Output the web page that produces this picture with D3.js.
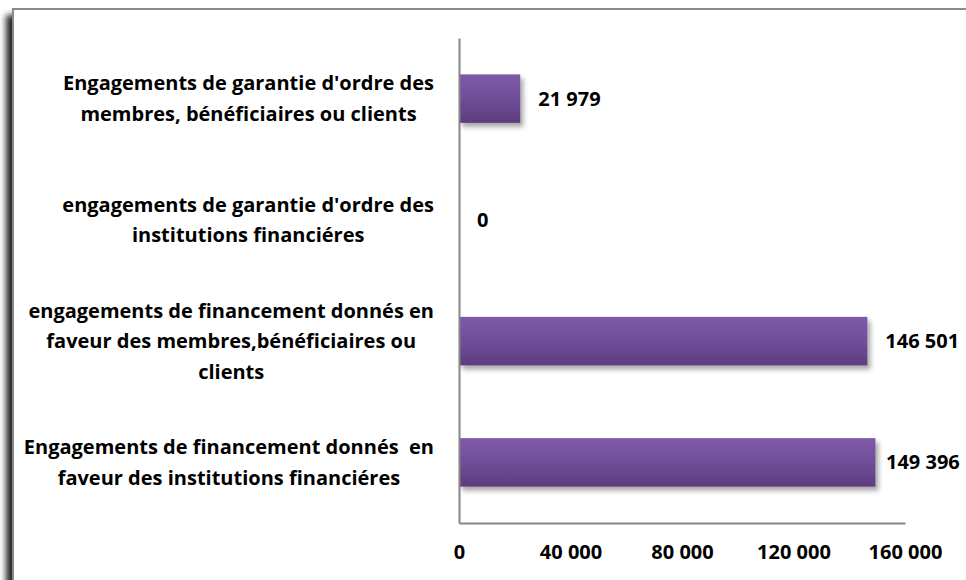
<!DOCTYPE html>
<html>
<head>
<meta charset="utf-8">
<script src="https://cdn.jsdelivr.net/npm/d3@7"></script>
<style>
   body { margin: 0; background: #fff; }
   svg text { font-family: "Open Sans", sans-serif; font-weight: bold; fill: #000; font-variant-ligatures: none; white-space: pre; }
</style>
</head>
<body>
<svg id="chart" width="966" height="580"></svg>
<script>
// DATA
var categories = [
   ["Engagements de garantie d'ordre des", "membres, bénéficiaires ou clients"],
   ["engagements de garantie d'ordre des", "institutions financiéres"],
   ["engagements de financement donnés en", "faveur des membres,bénéficiaires ou", "clients"],
   ["Engagements de financement donnés  en", "faveur des institutions financiéres"]
];
var values = [21979, 0, 146501, 149396];
var xTicks = [0, 40000, 80000, 120000, 160000];

var svg = d3.select('#chart');

var bounds = {left: 459, right: 905, top: 38, bottom: 523};
var labelRight = 434;

var frFormat = d3.formatLocale({decimal: ',', thousands: '\u2009', grouping: [3], currency: ['', ' €']}).format(',d');
var fmt = function (v) { return frFormat(v).replace(/\u2009/g, ' '); };

var defs = svg.append('defs');

var grad = defs.append('linearGradient')
   .attr('id', 'barGrad')
   .attr('x1', 0).attr('y1', 0).attr('x2', 0).attr('y2', 1);
grad.append('stop').attr('offset', '0%').attr('stop-color', '#7f5aa9');
grad.append('stop').attr('offset', '50%').attr('stop-color', '#704e99');
grad.append('stop').attr('offset', '100%').attr('stop-color', '#5d3c7e');

var barShadow = defs.append('filter').attr('id', 'barShadow')
   .attr('x', '-10%').attr('y', '-20%').attr('width', '130%').attr('height', '160%');
barShadow.append('feDropShadow')
   .attr('dx', 3).attr('dy', 4).attr('stdDeviation', 2.5)
   .attr('flood-color', '#000').attr('flood-opacity', 0.35);

var frameShadow = defs.append('filter').attr('id', 'frameShadow')
   .attr('x', '-5%').attr('y', '-5%').attr('width', '110%').attr('height', '110%');
frameShadow.append('feDropShadow')
   .attr('dx', -6).attr('dy', 7).attr('stdDeviation', 3)
   .attr('flood-color', '#000').attr('flood-opacity', 0.85);

// outer frame
svg.append('rect')
   .attr('x', 13).attr('y', 9)
   .attr('width', 980).attr('height', 600)
   .attr('fill', '#fff')
   .attr('stroke', '#8a8a8a')
   .attr('stroke-width', 2)
   .attr('filter', 'url(#frameShadow)');

// scales
var x = d3.scaleLinear()
   .domain([0, 160000])
   .range([bounds.left, bounds.right]);

var y = d3.scaleBand()
   .domain(d3.range(categories.length))
   .range([bounds.top, bounds.bottom])
   .paddingInner(0.6)
   .paddingOuter(0.3);

// bars
svg.append('g').selectAll('rect')
   .data(values.map(function (v, i) { return {v: v, i: i}; }).filter(function (d) { return d.v > 0; }))
   .enter().append('rect')
   .attr('x', x(0))
   .attr('y', function (d) { return y(d.i); })
   .attr('width', function (d) { return x(d.v) - x(0); })
   .attr('height', y.bandwidth())
   .attr('fill', 'url(#barGrad)')
   .attr('filter', 'url(#barShadow)');

// value labels
svg.append('g').selectAll('text')
   .data(values)
   .enter().append('text')
   .attr('x', function (d) { return Math.min(x(d) + 18, 886); })
   .attr('y', function (d, i) { return y(i) + y.bandwidth() / 2; })
   .attr('dy', '0.35em')
   .style('font-size', '20px')
   .text(fmt);

// axes
var xAxis = d3.axisBottom(x)
   .tickValues(xTicks)
   .tickSize(0)
   .tickPadding(22)
   .tickFormat(fmt);

var xg = svg.append('g')
   .attr('transform', 'translate(0,' + bounds.bottom + ')')
   .call(xAxis);
xg.select('.domain').attr('stroke', '#868686').attr('stroke-width', 2);
xg.selectAll('text').style('font-size', '20px').attr('fill', '#000');

var yAxis = d3.axisLeft(y).tickSize(0).tickFormat('');
var yg = svg.append('g')
   .attr('transform', 'translate(' + bounds.left + ',0)')
   .call(yAxis);
yg.select('.domain').attr('stroke', '#868686').attr('stroke-width', 2);

// category labels: lines centred on each other, block right-aligned near the axis
var lineHeight = 30.5;
var labels = svg.append('g').selectAll('text')
   .data(categories)
   .enter().append('text')
   .attr('text-anchor', 'middle')
   .style('font-size', '20px')
   .attr('y', function (d, i) {
      return y(i) + y.bandwidth() / 2 - (d.length - 1) * lineHeight / 2;
   });

labels.selectAll('tspan')
   .data(function (d) { return d; })
   .enter().append('tspan')
   .attr('dy', function (d, i) { return i === 0 ? '0.35em' : lineHeight; })
   .text(function (d) { return d; });

labels.each(function () {
   var widest = d3.max(d3.select(this).selectAll('tspan').nodes(), function (n) {
      return n.getComputedTextLength();
   });
   d3.select(this).selectAll('tspan').attr('x', labelRight - widest / 2);
});
</script>
</body>
</html>
